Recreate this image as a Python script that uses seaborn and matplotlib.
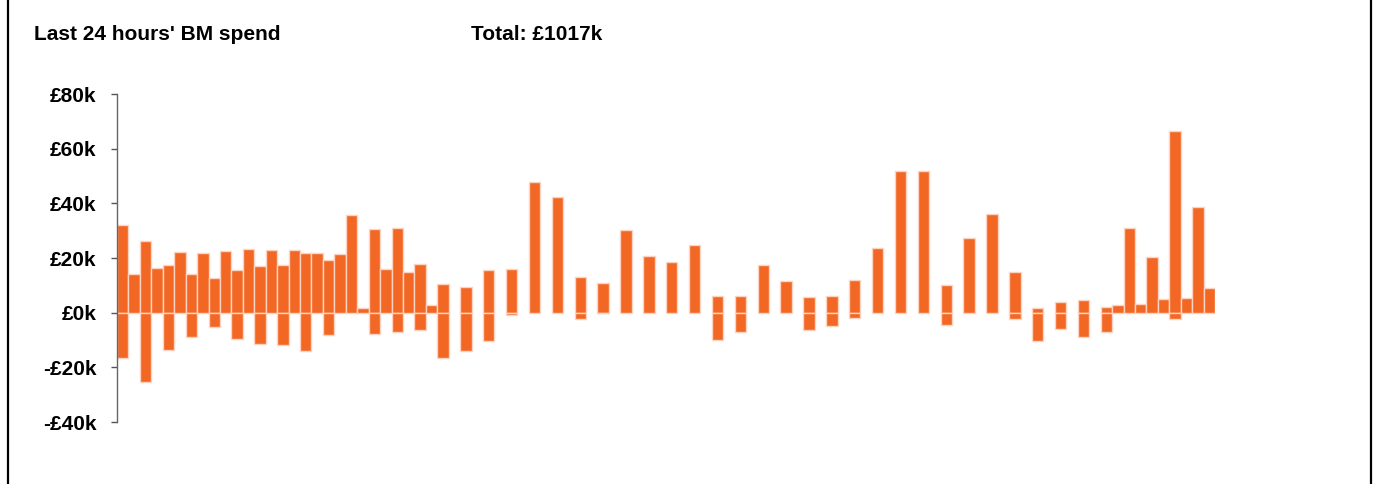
import matplotlib
matplotlib.use("Agg")
import matplotlib.pyplot as plt
from matplotlib.lines import Line2D
import seaborn as sns
import numpy as np
import pandas as pd

# half-hourly BM spend in £k, 96 quarter-width slots over the last 24 hours
pos_spend = [32.1, 14.2, 26.3, 16.4, 17.5, 22.3, 14.2, 21.9, 12.8, 22.6, 15.7, 23.4,
             17.2, 23.0, 17.5, 23.0, 21.9, 21.9, 19.4, 21.4, 35.9, 1.8, 30.7, 15.8,
             30.9, 15.0, 17.8, 2.7, 10.6, 0, 9.5, 0, 15.7, 0, 16.1, 0,
             47.9, 0, 42.4, 0, 13.2, 0, 11.0, 0, 30.3, 0, 20.6, 0,
             18.5, 0, 24.6, 0, 6.2, 0, 6.1, 0, 17.5, 0, 11.6, 0,
             5.7, 0, 6.2, 0, 12.1, 0, 23.6, 0, 52.0, 0, 51.9, 0,
             10.1, 0, 27.3, 0, 36.0, 0, 14.8, 0, 1.7, 0, 3.9, 0,
             4.6, 0, 2.1, 2.9, 30.9, 3.3, 20.3, 5.0, 66.5, 5.2, 38.7, 9.0]
neg_spend = [-16.7, 0, -25.3, 0, -13.6, 0, -8.8, 0, -5.2, 0, -9.6, 0,
             -11.6, 0, -11.8, 0, -13.9, 0, -8.0, 0, 0, 0, -7.8, 0,
             -7.0, 0, -6.4, 0, -16.7, 0, -14.1, 0, -10.2, 0, -0.7, 0,
             0, 0, 0, 0, -2.2, 0, -0.3, 0, 0, 0, 0, 0,
             0, 0, 0, 0, -10.0, 0, -7.2, 0, 0, 0, 0, 0,
             -6.3, 0, -5.0, 0, -1.8, 0, 0, 0, 0, 0, 0, 0,
             -4.4, 0, 0, 0, 0, 0, -2.2, 0, -10.3, 0, -6.0, 0,
             -8.8, 0, -7.2, 0, 0, 0, 0, 0, -2.3, 0, 0, 0]
y_ticks = [80, 60, 40, 20, 0, -20, -40]
title_text = "Last 24 hours' BM spend"
total_text = "Total: £1017k"

df = pd.DataFrame({"slot": range(len(pos_spend)), "pos": pos_spend, "neg": neg_spend})
pos_df = df[df["pos"] != 0]
neg_df = df[df["neg"] != 0]

plt.rcParams["font.family"] = ["Liberation Sans", "DejaVu Sans"]
plt.rcParams["font.weight"] = "bold"

fig = plt.figure(figsize=(13.73, 4.84), dpi=100)
ax = fig.add_axes([117 / 1373, 1 - 422 / 484, (1215 - 117) / 1373, (422 - 94) / 484])

orange = "#f36724"
edge = "#fbd3c0"
for part, col in [(pos_df, "pos"), (neg_df, "neg")]:
    # native_scale widths are relative to the smallest gap between slots
    gap = np.diff(part["slot"].values).min()
    sns.barplot(data=part, x="slot", y=col, native_scale=True, width=1 / gap, color=orange,
                saturation=1, edgecolor=edge, linewidth=1, errorbar=None, ax=ax)

ax.set_xlim(-0.5, len(pos_spend) - 0.5)
ax.set_ylim(-40, 80)
ax.set_yticks(y_ticks)
ax.set_yticklabels([("-£%dk" % -v) if v < 0 else ("£%dk" % v) for v in y_ticks],
                   fontsize=15, fontweight="bold")
ax.tick_params(axis="y", length=4, width=1, color="#555555", pad=11)
ax.set_xticks([])
ax.set_xlabel("")
ax.set_ylabel("")
for s in ["top", "right", "bottom"]:
    ax.spines[s].set_visible(False)
ax.spines["left"].set_color("#666666")
ax.spines["left"].set_linewidth(1)
ax.patch.set_alpha(0)

fig.text(34 / 1373, 1 - 34 / 484, title_text, fontsize=15, fontweight="bold", va="center", ha="left")
fig.text(471 / 1373, 1 - 34 / 484, total_text, fontsize=15, fontweight="bold", va="center", ha="left")

fig.add_artist(Line2D([7.5 / 1373, 7.5 / 1373], [0, 1], color="black", linewidth=1.6))
fig.add_artist(Line2D([1370.5 / 1373, 1370.5 / 1373], [0, 1], color="black", linewidth=1.6))

fig.savefig("out.png", dpi=100)
